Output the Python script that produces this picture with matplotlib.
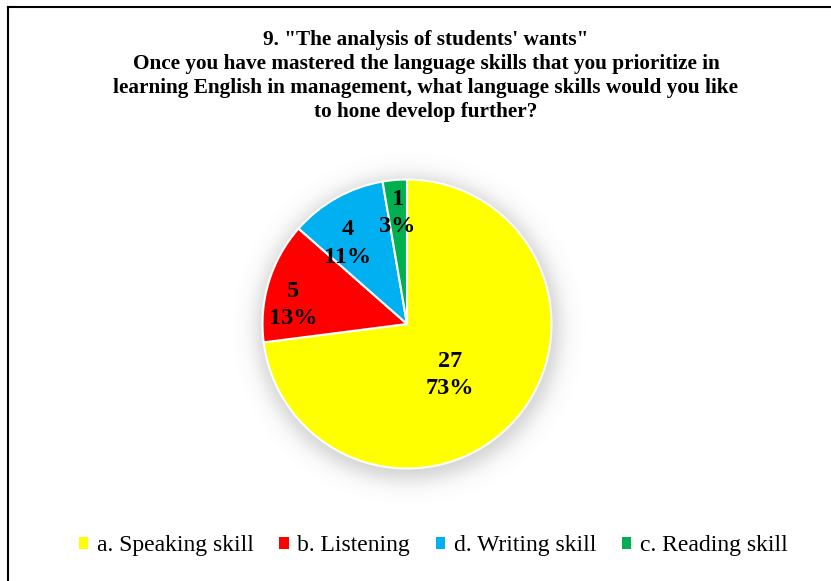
import numpy as np
import matplotlib.pyplot as plt
from matplotlib.lines import Line2D
from matplotlib.patches import Rectangle

plt.rcParams['font.family'] = ['Liberation Serif', 'DejaVu Serif']

labels = ['a. Speaking skill', 'b. Listening', 'd. Writing skill', 'c. Reading skill']
counts = [27, 5, 4, 1]
percents = [73, 13, 11, 3]
colors = ['#FFFF00', '#FF0000', '#00B0F0', '#00B050']
# data label placement: radial distance and angle nudge (deg) from slice middle
label_dist = [0.46, 0.80, 0.69, 0.77]
label_turn = [-8.6, 7.5, 7.2, 0.0]

title = ('9. "The analysis of students\' wants"\n'
         'Once you have mastered the language skills that you prioritize in\n'
         'learning English in management, what language skills would you like\n'
         'to hone develop further?')

W, H = 831, 581
fig = plt.figure(figsize=(W / 100, H / 100), dpi=100)

# frame lines (left and top)
fig.add_artist(Line2D([8 / W, 8 / W], [0, 1 - 7 / H], color='black', lw=1.5))
fig.add_artist(Line2D([8 / W, 1], [1 - 7 / H, 1 - 7 / H], color='black', lw=1.5))

fig.text(426 / W, 1 - 76 / H, title, ha='center', va='center', fontsize=15.3,
         fontweight='bold', linespacing=1.26)

cx, cy, rad = 407, H - 324, 144.5
half = 200
ax = fig.add_axes([(cx - half) / W, (cy - half) / H, 2 * half / W, 2 * half / H])
lim = half / rad

# soft shadow behind the pie
g = np.linspace(-lim, lim, 400)
X, Y = np.meshgrid(g, g)
d = np.hypot(X - 0.01, Y + 0.03)
alpha = 0.36 * 0.5 * (1 - np.tanh((d - 1.05) / 0.08))
shade = np.zeros((400, 400, 4))
shade[..., :3] = 0.5
shade[..., 3] = alpha
ax.imshow(shade, extent=[-lim, lim, -lim, lim], origin='lower', zorder=0)

wedges, _ = ax.pie(counts, colors=colors, startangle=90, counterclock=False,
                   radius=1, wedgeprops=dict(edgecolor='white', linewidth=1.5))
for w in wedges:
    w.set_zorder(2)

for w, c, pct, dist, turn in zip(wedges, counts, percents, label_dist, label_turn):
    mid = np.deg2rad((w.theta1 + w.theta2) / 2 + turn)
    ax.text(dist * np.cos(mid), dist * np.sin(mid), f'{c}\n{pct}%', ha='center',
            va='center', fontsize=17.5, fontweight='bold', zorder=3, linespacing=1.42)

ax.set_xlim(-lim, lim)
ax.set_ylim(-lim, lim)
ax.set_aspect('equal')
ax.axis('off')

handles = [Rectangle((0, 0), 1, 1, facecolor=col, edgecolor='none') for col in colors]
fig.legend(handles, labels, loc='center', bbox_to_anchor=(433 / W, 1 - 546 / H), ncol=4,
           frameon=False, fontsize=17, handlelength=0.42, handleheight=0.42,
           handletextpad=0.35, columnspacing=1.08)

fig.savefig('out.png', dpi=100)
